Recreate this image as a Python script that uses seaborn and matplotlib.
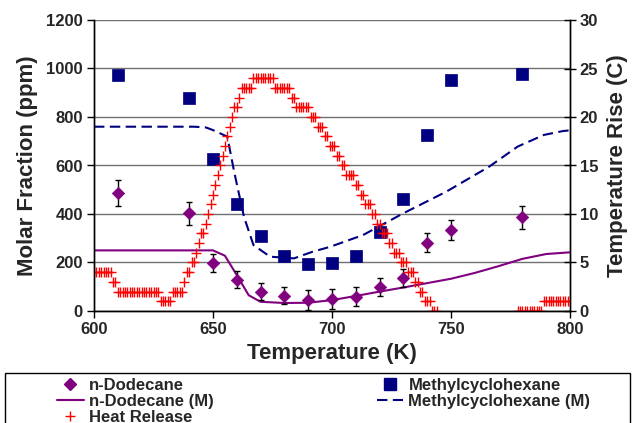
import numpy as np
import pandas as pd
import matplotlib
matplotlib.use("Agg")
import matplotlib.pyplot as plt
import seaborn as sns
from matplotlib.patches import Rectangle
from matplotlib.lines import Line2D

# ---- measured species concentrations (ppm) ----
exp_temp = [610, 640, 650, 660, 670, 680, 690, 700, 710, 720, 730, 740, 750, 780]
dodecane = [488, 403, 197, 128, 80, 63, 45, 49, 59, 98, 135, 282, 334, 386]
dodecane_err = [53, 47, 37, 35, 36, 36, 40, 40, 40, 38, 38, 40, 40, 46]
mch = [973, 877, 626, 441, 309, 228, 194, 197, 228, 324, 460, 726, 953, 977]

# ---- model predictions (ppm) ----
dod_model_temp = [600, 650, 655, 660, 665, 670, 680, 690, 700, 710, 720, 730,
                  740, 750, 760, 770, 780, 790, 800]
dod_model = [250, 250, 228, 148, 65, 38, 33, 34, 45, 62, 80, 97,
             115, 133, 157, 185, 215, 235, 242]
mch_model_temp = [600, 642, 647, 650, 656, 659, 663, 667, 674, 684, 692, 699,
                  713, 730, 748, 766, 778, 789, 797, 800]
mch_model = [760, 760, 757, 746, 719, 569, 389, 272, 224, 217, 245, 264,
             313, 403, 492, 595, 678, 726, 742, 745]

# ---- heat release (temperature rise, C), one reading per K from 600 to 800 ----
nan = np.nan
hr_temp = list(range(600, 801))
heat_release = [
    4, 4, 4, 4, 4, 4, 4, 4, 3, 3,
    2, 2, 2, 2, 2, 2, 2, 2, 2, 2,
    2, 2, 2, 2, 2, 2, 2, 2, 1, 1,
    1, 1, 1, 2, 2, 2, 2, 2, 3, 4,
    4, 5, 5, 6, 7, 8, 8, 9, 10, 11,
    12, 13, 14, 15, 16, 17, 18, 19, 20, 21,
    21, 22, 23, 23, 23, 23, 23, 24, 24, 24,
    24, 24, 24, 24, 24, 24, 23, 23, 23, 23,
    23, 23, 23, 22, 22, 21, 21, 21, 21, 21,
    21, 20, 20, 20, 19, 19, 19, 18, 18, 17,
    17, 17, 16, 16, 15, 15, 14, 14, 14, 14,
    13, 13, 12, 12, 11, 11, 11, 10, 10, 9,
    9, 8, 8, 8, 7, 7, 6, 6, 6, 5,
    5, 5, 4, 4, 4, 3, 3, 2, 2, 1,
    1, 1, 0, 0, 0, nan, nan, nan, nan, nan,
    nan, nan, nan, nan, nan, nan, nan, nan, nan, nan,
    nan, nan, nan, nan, nan, nan, nan, nan, nan, nan,
    nan, nan, nan, nan, nan, nan, nan, nan, 0, 0,
    0, 0, 0, 0, 0, 0, 0, 0, 0, 1,
    1, 1, 1, 1, 1, 1, 1, 1, 1, 1, 1,
]

exp_df = pd.DataFrame({"T": exp_temp, "dod": dodecane, "err": dodecane_err, "mch": mch})
dod_m = pd.DataFrame({"T": dod_model_temp, "v": dod_model})
mch_m = pd.DataFrame({"T": mch_model_temp, "v": mch_model})
hr_df = pd.DataFrame({"T": hr_temp, "v": heat_release}).dropna()

sns.set_theme(style="white")
plt.rcParams["font.family"] = ["Liberation Sans", "DejaVu Sans"]
plt.rcParams["font.weight"] = "bold"
plt.rcParams["axes.labelweight"] = "bold"

PURPLE = "#800080"
NAVY = "#000080"
RED = "#ff0000"

fig = plt.figure(figsize=(6.35, 4.23), dpi=100)
ax = fig.add_axes([94 / 635, 1 - 311 / 423, 476 / 635, 291 / 423])
ax2 = ax.twinx()

# gridlines on the concentration axis
ax.set_axisbelow(True)
ax.yaxis.grid(True, color="#707070", linewidth=1.0)
ax.xaxis.grid(False)

sns.lineplot(data=dod_m, x="T", y="v", ax=ax, color=PURPLE, linewidth=1.5)
sns.lineplot(data=mch_m, x="T", y="v", ax=ax, color=NAVY, linewidth=1.5,
             linestyle=(0, (5, 2.6)))
ax.errorbar(exp_df["T"], exp_df["dod"], yerr=exp_df["err"], fmt="none",
            ecolor="black", elinewidth=1, capsize=2.5, capthick=1, zorder=3)
sns.scatterplot(data=exp_df, x="T", y="dod", ax=ax, marker="D", s=40,
                color=PURPLE, edgecolor=PURPLE, linewidth=0.5, zorder=4)
sns.scatterplot(data=exp_df, x="T", y="mch", ax=ax, marker="s", s=72,
                color=NAVY, edgecolor=NAVY, linewidth=0.5, zorder=4)

sns.scatterplot(data=hr_df, x="T", y="v", ax=ax2, marker="+", s=50,
                color=RED, linewidth=1.0)

ax.set_xlim(600, 800)
ax.set_ylim(0, 1200)
ax2.set_ylim(0, 30)
ax.set_xticks(range(600, 801, 50))
ax.set_yticks(range(0, 1201, 200))
ax2.set_yticks(range(0, 31, 5))

for a in (ax, ax2):
    a.spines["top"].set_visible(False)
    for s in ("left", "right", "bottom"):
        a.spines[s].set_color("black")
        a.spines[s].set_linewidth(1.0)

ax.tick_params(axis="x", direction="out", length=5, width=1, color="black",
               labelsize=12, pad=3, bottom=True)
ax.tick_params(axis="y", direction="out", length=5, width=1, color="black",
               labelsize=12, pad=3, left=True)
ax2.tick_params(axis="y", direction="inout", length=8, width=1, color="black",
                labelsize=12, pad=3, right=True)
for lab in ax.get_xticklabels() + ax.get_yticklabels() + ax2.get_yticklabels():
    lab.set_fontweight("bold")

ax.set_xlabel("Temperature (K)", fontsize=16, fontweight="bold", labelpad=4)
ax.set_ylabel("Molar Fraction (ppm)", fontsize=16, fontweight="bold", labelpad=6)
ax2.set_ylabel("Temperature Rise (C)", fontsize=16, fontweight="bold", labelpad=6)

# legend box along the bottom of the figure
fig.patches.append(Rectangle((5 / 635, -0.2), 625 / 635, 0.2 + (1 - 373 / 423),
                             transform=fig.transFigure, fill=False,
                             edgecolor="black", linewidth=1.0))
handles = [
    Line2D([], [], linestyle="none", marker="D", markersize=6, color=PURPLE),
    Line2D([], [], color=PURPLE, linewidth=1.5),
    Line2D([], [], linestyle="none", marker="+", markersize=7, color=RED,
           markeredgewidth=1.0),
    Line2D([], [], linestyle="none", marker="s", markersize=8, color=NAVY),
    Line2D([], [], color=NAVY, linewidth=1.5, linestyle=(0, (5, 2.6))),
]
labels = ["n-Dodecane", "n-Dodecane (M)", "Heat Release",
          "Methylcyclohexane", "Methylcyclohexane (M)"]
fig.legend(handles, labels, ncol=2, loc="upper left",
           bbox_to_anchor=(57 / 635, 1 - 378 / 423), frameon=False,
           prop={"size": 12, "weight": "bold"}, handlelength=1.6,
           handletextpad=0.3, columnspacing=9.8, labelspacing=0.05,
           borderpad=0, borderaxespad=0)

fig.savefig("out.png", dpi=100, facecolor="white")
